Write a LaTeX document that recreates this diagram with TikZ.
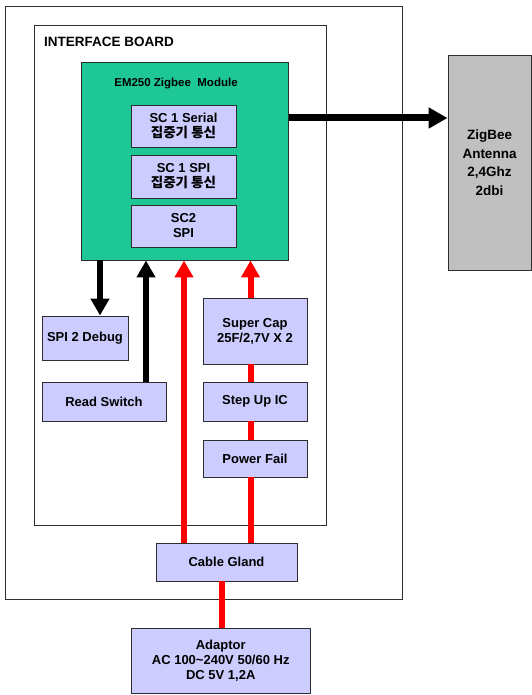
\documentclass[tikz,border=0pt]{standalone}
\usepackage{fontspec}
\setmainfont{Liberation Sans}
\newfontfamily\kr{Noto Sans CJK KR}
\usetikzlibrary{arrows.meta}
\definecolor{lav}{RGB}{204,204,255}
\definecolor{zgreen}{RGB}{30,200,150}
\definecolor{antgray}{RGB}{192,192,192}
\definecolor{edge}{RGB}{45,45,45}
\definecolor{pred}{RGB}{255,0,0}
\tikzset{
  frame/.style={draw=edge, line width=0.9pt, fill=white, inner sep=0pt},
  blk/.style={draw=edge, line width=0.9pt, fill=lav, inner sep=0pt, align=center,
    font=\fontsize{13}{15}\selectfont\bfseries},
  green/.style={draw=edge, line width=0.9pt, fill=zgreen, inner sep=0pt},
  ant/.style={draw=edge, line width=0.9pt, fill=antgray, inner sep=0pt, align=center,
    font=\fontsize{13.5}{18.5}\selectfont\bfseries},
  barrow/.style={draw=black, line width=5.5pt, -{Triangle[width=18pt,length=17pt]}},
  rarrow/.style={draw=pred, line width=6pt, -{Triangle[width=18pt,length=17pt]}},
  rline/.style={draw=pred, line width=6pt},
  zarrow/.style={draw=black, line width=7pt, -{Triangle[width=20pt,length=19pt]}},
}
\begin{document}
\begin{tikzpicture}[x=1pt,y=1pt]
\useasboundingbox (0,0) rectangle (531,-695);
% frames
\node[frame, minimum width=397pt, minimum height=593pt] (outer) at (203.5,-302.5) {};
\node[frame, minimum width=292pt, minimum height=500pt] (board) at (180,-275) {};
\node[anchor=west, inner sep=0pt, font=\fontsize{13.5}{16}\selectfont\bfseries] (boardlbl) at (44,-42) {INTERFACE BOARD};
% module
\node[green, minimum width=207.5pt, minimum height=198pt] (mod) at (184.75,-161) {};
\node[inner sep=0pt, font=\fontsize{11.5}{14}\selectfont\bfseries] (modlbl) at (176,-84) {EM250 Zigbee \ Module};
\node[blk, minimum width=105pt, minimum height=42pt] (sc1) at (183.5,-126) {SC 1 Serial\\{\kr\bfseries\fontsize{13.5}{15}\selectfont 집중기 통신}};
\node[blk, minimum width=105pt, minimum height=43pt] (sc2) at (183.5,-176.5) {SC 1 SPI\\{\kr\bfseries\fontsize{13.5}{15}\selectfont 집중기 통신}};
\node[blk, minimum width=105pt, minimum height=42pt] (sc3) at (183.5,-226) {SC2\\SPI};
% antenna
\node[ant, minimum width=83pt, minimum height=215pt] (antenna) at (489.5,-162.5) {ZigBee\\Antenna\\2,4Ghz\\2dbi};
% lower blocks
\node[blk, minimum width=86pt, minimum height=44pt] (dbg) at (85,-338) {SPI 2 Debug};
\node[blk, minimum width=124pt, minimum height=39pt] (rsw) at (104,-401.5) {Read Switch};
\node[blk, minimum width=104pt, minimum height=66pt] (cap) at (255,-331) {Super Cap\\25F/2,7V X 2};
\node[blk, minimum width=104pt, minimum height=39pt] (stepup) at (255,-401.5) {Step Up IC};
\node[blk, minimum width=104pt, minimum height=37pt] (pfail) at (255,-458.5) {Power Fail};
\node[blk, minimum width=141pt, minimum height=38pt] (gland) at (226.5,-562) {Cable Gland};
\node[blk, minimum width=179.5pt, minimum height=65pt] (adaptor) at (220.75,-660.5) {Adaptor\\AC 100\textasciitilde240V 50/60 Hz\\DC 5V 1,2A};
% connectors
\draw[zarrow] (0,-118 -| mod.east) -- (0,-118 -| antenna.west);
\draw[barrow] (100,0 |- mod.south) -- (100,0 |- dbg.north);
\draw[barrow] (146,0 |- rsw.north) -- (146,0 |- mod.south);
\draw[rarrow] (184,0 |- gland.north) -- (184,0 |- mod.south);
\draw[rarrow] (250.5,0 |- cap.north) -- (250.5,0 |- mod.south);
\draw[rline] (250.5,0 |- stepup.north) -- (250.5,0 |- cap.south);
\draw[rline] (250.5,0 |- pfail.north) -- (250.5,0 |- stepup.south);
\draw[rline] (250.5,0 |- gland.north) -- (250.5,0 |- pfail.south);
\draw[rline] (222,0 |- adaptor.north) -- (222,0 |- gland.south);
\end{tikzpicture}
\end{document}
